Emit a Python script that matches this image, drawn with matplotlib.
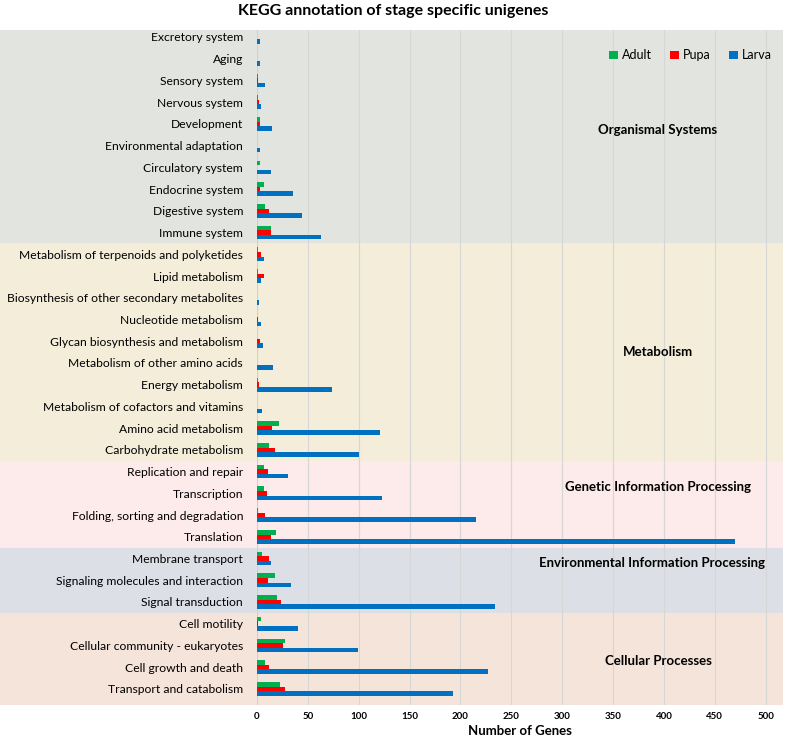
import numpy as np
import matplotlib.pyplot as plt
from matplotlib.patches import Rectangle
import matplotlib.transforms as mtransforms

plt.rcParams['font.family'] = ['Lato', 'DejaVu Sans']

# categories listed top to bottom as in the chart
categories = [
    "Excretory system", "Aging", "Sensory system", "Nervous system", "Development",
    "Environmental adaptation", "Circulatory system", "Endocrine system",
    "Digestive system", "Immune system",
    "Metabolism of terpenoids and polyketides", "Lipid metabolism",
    "Biosynthesis of other secondary metabolites", "Nucleotide metabolism",
    "Glycan biosynthesis and metabolism", "Metabolism of other amino acids",
    "Energy metabolism", "Metabolism of cofactors and vitamins",
    "Amino acid metabolism", "Carbohydrate metabolism",
    "Replication and repair", "Transcription", "Folding, sorting and degradation",
    "Translation",
    "Membrane transport", "Signaling molecules and interaction", "Signal transduction",
    "Cell motility", "Cellular community - eukaryotes", "Cell growth and death",
    "Transport and catabolism",
]
adult = [0, 0, 1, 1, 3, 0, 3, 7, 8, 14,
         1, 1, 0, 0, 0, 0, 1, 0, 22, 12,
         7, 7, 1, 19,
         5, 18, 20,
         4, 28, 8, 23]
pupa = [0, 0, 1, 2, 3, 0, 0, 3, 12, 14,
        4, 7, 0, 1, 3, 0, 2, 0, 15, 18,
        11, 10, 8, 14,
        12, 11, 24,
        1, 26, 12, 28]
larva = [3, 3, 8, 4, 15, 3, 14, 35, 44, 63,
         7, 4, 2, 4, 6, 16, 74, 5, 121, 100,
         30, 123, 215, 470,
         14, 33, 234,
         40, 99, 227, 193]

groups = ["Organismal Systems", "Metabolism", "Genetic Information Processing",
          "Environmental Information Processing", "Cellular Processes"]
group_sizes = [10, 10, 4, 3, 4]
group_colors = ["#e2e5df", "#f3edda", "#fdeaea", "#dcdfe5", "#f5e4da"]
# where the group names sit (x in genes, y in category rows from the bottom)
group_label_x = [394, 394, 394, 388, 395]
group_label_y = [25.7, 15.5, 9.3, 5.8, 1.3]

x_ticks = list(range(0, 501, 50))

n = len(categories)
y = np.arange(n)[::-1]  # top category gets highest y

fig = plt.figure(figsize=(7.86, 7.37), dpi=100)
ax = fig.add_axes([257 / 786, 32 / 737, 526 / 786, 675 / 737])
ax.set_xlim(0, 517)
ax.set_ylim(-0.74, n - 1 + 0.32)

# background bands, stretched under the category labels
trans = mtransforms.blended_transform_factory(ax.transAxes, ax.transData)
left = -257 / 526
start = n
for i, (name, size, col) in enumerate(zip(groups, group_sizes, group_colors)):
    top = start - 0.5 if start < n else n - 1 + 0.32
    bottom = start - size - 0.5 if start - size > 0 else -0.74
    ax.add_patch(Rectangle((left, bottom), 1 - left, top - bottom, transform=trans,
                           facecolor=col, edgecolor='none', clip_on=False, zorder=0))
    ax.text(group_label_x[i], group_label_y[i], name,
            ha='center', va='center', fontsize=9.5, fontweight='bold', zorder=4)
    start -= size

h = 0.21
ax.barh(y + h, adult, height=h, color='#00b050', label='Adult', zorder=3)
ax.barh(y, pupa, height=h, color='#ff0000', label='Pupa', zorder=3)
ax.barh(y - h, larva, height=h, color='#0070c0', label='Larva', zorder=3)

ax.set_yticks(y)
ax.set_yticklabels(categories, fontsize=8.7)
ax.set_xticks(x_ticks)
ax.set_xticklabels([str(v) for v in x_ticks], fontsize=7, fontweight='bold')
ax.tick_params(axis='both', length=0)
ax.tick_params(axis='y', pad=10)
ax.tick_params(axis='x', pad=5)
ax.xaxis.grid(True, color='#d6d6d6', linewidth=0.8, zorder=1)
ax.set_axisbelow(True)
for s in ax.spines.values():
    s.set_visible(False)
ax.axvline(0, color='#d0d0d0', linewidth=0.8, zorder=1)

ax.set_xlabel("Number of Genes", fontsize=9.5, fontweight='bold', labelpad=3)
fig.text(0.5, 1 - 11 / 737, "KEGG annotation of stage specific unigenes",
         ha='center', va='center', fontsize=11.5, fontweight='bold')

ax.legend(loc='upper right', bbox_to_anchor=(1.0, 0.988), ncol=3, frameon=False,
          fontsize=9, handlelength=0.7, handleheight=0.7, handletextpad=0.3,
          columnspacing=1.5)

plt.savefig("out.png", dpi=100)
